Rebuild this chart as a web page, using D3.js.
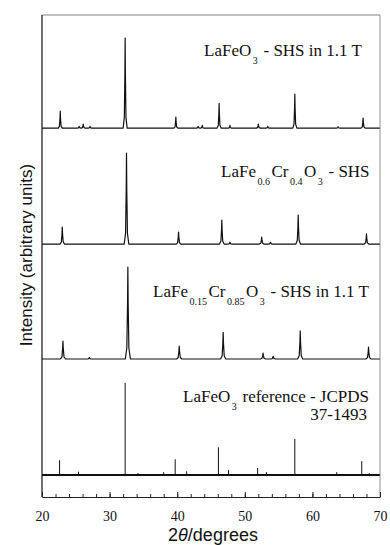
<!DOCTYPE html>
<html>
<head>
<meta charset="utf-8">
<script src="https://cdn.jsdelivr.net/npm/d3@7"></script>
<style>
  body { margin: 0; background: #fff; }
  svg { display: block; }
</style>
</head>
<body>
<script>
var w = 390; // Width of the page
var h = 545; // Height of the page

// Peak lists: [2theta, intensity] (strongest peak ~ 100)
var peaksShs = [[22.7, 18.5], [25.5, 2], [26.1, 4.5], [27.1, 2], [32.3, 98], [39.8, 12],
    [43.1, 2], [43.7, 3], [46.2, 27], [47.8, 3], [52.0, 4.5], [53.4, 2], [57.4, 37],
    [63.8, 1.5], [67.5, 11]];
var peaksCr04 = [[23.0, 18.5], [32.5, 99], [40.2, 13], [46.6, 26], [47.8, 2], [52.5, 7.5],
    [53.8, 2], [57.9, 31.5], [68.0, 11]];
var peaksCr085 = [[23.1, 19.5], [27.0, 1.5], [32.7, 100], [40.3, 14], [46.8, 29], [52.7, 6.5],
    [54.2, 3], [58.2, 30.5], [68.3, 13]];
// JCPDS 37-1493 reference lines
var refLines = [[22.6, 16], [25.4, 3.5], [32.3, 100], [34.2, 2], [38.0, 3], [39.7, 17],
    [41.4, 4], [46.1, 30], [47.6, 5.5], [51.9, 7.5], [53.2, 3], [57.4, 39], [63.6, 3],
    [67.3, 15], [68.4, 2]];

// Vertical offsets of each trace (same units as intensity)
var offsets = [377, 251, 126, 0];
var xTicksMajor = [20, 30, 40, 50, 60, 70];
var xTicksMinor = d3.range(20, 71, 2);

var x = d3.scaleLinear().domain([20, 70]).range([42, 380]);
var y = d3.scaleLinear().domain([-24, 500]).range([497, 15]);

var svg = d3.select("body").append("svg")
    .attr("width", w)
    .attr("height", h);

// turn a peak list into a spiky pattern line
function pattern(peaks, hw) {
    var pts = [[20, 0]];
    peaks.forEach(function(p) {
        var c = p[0], v = p[1];
        pts.push([c - hw, 0], [c - hw * 0.4, v * 0.12], [c - hw * 0.12, v * 0.6], [c, v],
            [c + hw * 0.12, v * 0.6], [c + hw * 0.4, v * 0.12], [c + hw, 0]);
    });
    pts.push([70, 0]);
    return pts;
}

var traces = [
    { peaks: peaksShs, off: offsets[0], hw: 0.3 },
    { peaks: peaksCr04, off: offsets[1], hw: 0.34 },
    { peaks: peaksCr085, off: offsets[2], hw: 0.38 }
];

traces.forEach(function(t) {
    var line = d3.line()
        .x(function(d) { return x(d[0]); })
        .y(function(d) { return y(d[1] + t.off); });
    svg.append("path")
        .datum(pattern(t.peaks, t.hw))
        .attr("d", line)
        .attr("fill", "none")
        .attr("stroke", "#111")
        .attr("stroke-width", 1.2)
        .attr("stroke-linejoin", "round");
});

// reference stick pattern
svg.append("line")
    .attr("x1", x(20)).attr("x2", x(70))
    .attr("y1", y(offsets[3])).attr("y2", y(offsets[3]))
    .attr("stroke", "#111")
    .attr("stroke-width", 2);

svg.selectAll(".stick")
    .data(refLines)
    .join("line")
    .attr("class", "stick")
    .attr("x1", function(d) { return x(d[0]); })
    .attr("x2", function(d) { return x(d[0]); })
    .attr("y1", y(offsets[3]))
    .attr("y2", function(d) { return y(d[1] + offsets[3]); })
    .attr("stroke", "#111")
    .attr("stroke-width", 1);

// frame
svg.append("line").attr("x1", 42).attr("x2", 380).attr("y1", 15).attr("y2", 15)
    .attr("stroke", "#666").attr("stroke-width", 0.8);
svg.append("line").attr("x1", 380).attr("x2", 380).attr("y1", 15).attr("y2", 497)
    .attr("stroke", "#777").attr("stroke-width", 0.8);
svg.append("line").attr("x1", 42).attr("x2", 42).attr("y1", 15).attr("y2", 497)
    .attr("stroke", "#111").attr("stroke-width", 1.2);

// bottom axis: minor ticks every 2 degrees, labelled majors every 10
svg.append("g")
    .attr("transform", "translate(0,497)")
    .call(d3.axisBottom(x).tickValues(xTicksMinor).tickSize(-3).tickSizeOuter(0).tickFormat(""))
    .call(function(g) { g.selectAll("line").attr("stroke", "#222"); g.select(".domain").attr("stroke", "#222"); });

svg.append("g")
    .attr("transform", "translate(0,497)")
    .call(d3.axisBottom(x).tickValues(xTicksMajor).tickSize(-5).tickSizeOuter(0).tickPadding(14))
    .call(function(g) {
        g.select(".domain").remove();
        g.selectAll("line").attr("stroke", "#222");
        g.selectAll("text")
            .attr("fill", "#111")
            .style("font-family", "'Liberation Serif', 'Times New Roman', serif")
            .style("font-size", "14px");
    });

// axis titles
var xt = svg.append("text")
    .attr("x", 213).attr("y", 541)
    .attr("text-anchor", "middle")
    .attr("fill", "#111")
    .style("font-family", "'Liberation Sans', Arial, sans-serif")
    .style("font-size", "18px");
xt.append("tspan").text("2");
xt.append("tspan").style("font-style", "italic").text("\u03b8");
xt.append("tspan").text("/degrees");

svg.append("text")
    .attr("transform", "translate(32,255) rotate(-90)")
    .attr("text-anchor", "middle")
    .attr("fill", "#111")
    .style("font-family", "'Liberation Sans', Arial, sans-serif")
    .style("font-size", "17px")
    .text("Intensity (arbitrary units)");

// trace labels with subscripts
var labels = [
    { x: 204, y: 56, parts: [["LaFeO"], ["3", 1], [" - SHS in 1.1 T"]] },
    { x: 221, y: 177, parts: [["LaFe"], ["0.6", 1], ["Cr"], ["0.4", 1], ["O"], ["3", 1], [" - SHS"]] },
    { x: 153, y: 297, parts: [["LaFe"], ["0.15", 1], ["Cr"], ["0.85", 1], ["O"], ["3", 1], [" - SHS in 1.1 T"]] },
    { x: 183, y: 402, parts: [["LaFeO"], ["3", 1], [" reference - JCPDS"]] }
];

labels.forEach(function(l) {
    var t = svg.append("text")
        .attr("x", l.x).attr("y", l.y)
        .attr("fill", "#111")
        .style("font-family", "'Liberation Serif', 'Times New Roman', serif")
        .style("font-size", "17px");
    var low = false;
    l.parts.forEach(function(p) {
        var s = t.append("tspan").text(p[0]);
        if (p[1]) {
            s.attr("dx", 1.5).style("font-size", "10px");
            if (!low) { s.attr("dy", 8); low = true; }
        } else if (low) {
            s.attr("dy", -8).attr("dx", 1.5);
            low = false;
        }
    });
});

svg.append("text")
    .attr("x", 367).attr("y", 420)
    .attr("text-anchor", "end")
    .attr("fill", "#111")
    .style("font-family", "'Liberation Serif', 'Times New Roman', serif")
    .style("font-size", "17px")
    .text("37-1493");
</script>
</body>
</html>
